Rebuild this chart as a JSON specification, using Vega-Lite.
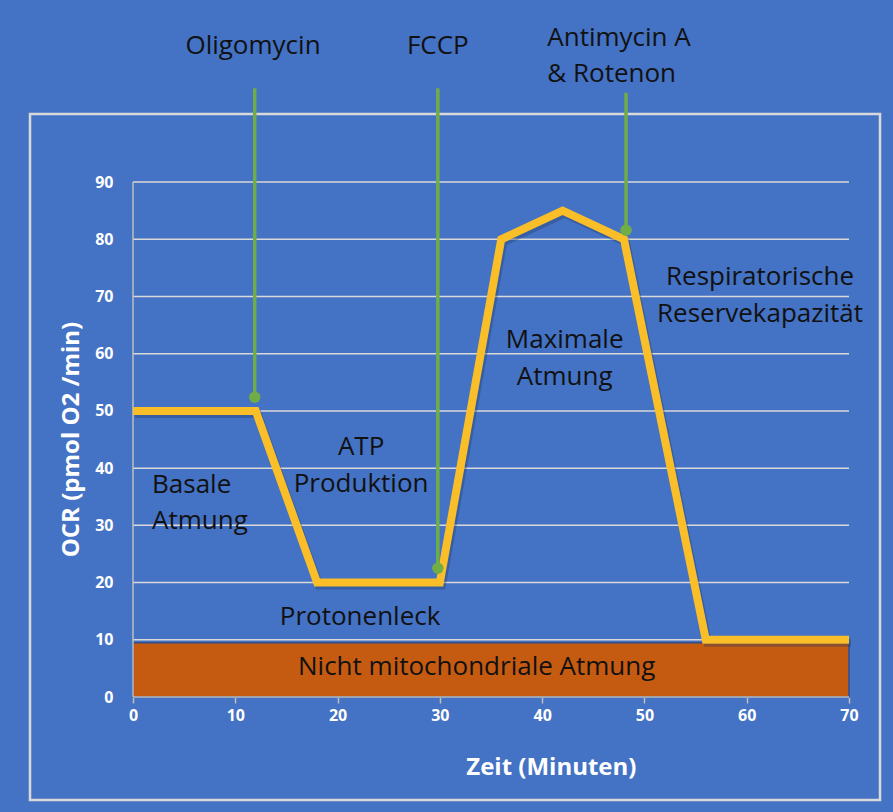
{
  "$schema": "https://vega.github.io/schema/vega-lite/v6.json",
  "width": 850,
  "height": 686,
  "autosize": {"type": "none"},
  "padding": {"left": 30, "top": 114, "right": 13, "bottom": 12},
  "background": "#4472C4",
  "config": {
    "view": {"stroke": "#D9D9D9", "strokeWidth": 2.5},
    "font": "Open Sans"
  },
  "datasets": {
    "ocr": [
      {"t": 0, "ocr": 50}, {"t": 12, "ocr": 50}, {"t": 18, "ocr": 20}, {"t": 30, "ocr": 20},
      {"t": 36, "ocr": 80}, {"t": 42, "ocr": 85}, {"t": 48, "ocr": 80}, {"t": 56, "ocr": 10}, {"t": 70, "ocr": 10}
    ],
    "grid": [{"v": 10}, {"v": 20}, {"v": 30}, {"v": 40}, {"v": 50}, {"v": 60}, {"v": 70}, {"v": 80}, {"v": 90}],
    "injections": [
      {"name": "Oligomycin", "t": 11.9, "top": 106.4, "end": 52.4},
      {"name": "FCCP", "t": 29.8, "top": 106.4, "end": 22.5},
      {"name": "Antimycin A & Rotenon", "t": 48.2, "top": 105.6, "end": 81.6}
    ],
    "centerLabels": [
      {"t": 11.73, "v": 113.8, "txt": "Oligomycin"},
      {"t": 29.8, "v": 113.8, "txt": "FCCP"},
      {"t": 22.3, "v": 43.7, "txt": "ATP\nProduktion"},
      {"t": 22.2, "v": 14.0, "txt": "Protonenleck"},
      {"t": 42.2, "v": 62.4, "txt": "Maximale\nAtmung"},
      {"t": 61.3, "v": 73.4, "txt": "Respiratorische\nReservekapazität"},
      {"t": 33.6, "v": 5.2, "txt": "Nicht mitochondriale Atmung"}
    ],
    "leftLabels": [
      {"t": 40.5, "v": 115.2, "txt": "Antimycin A\n& Rotenon"},
      {"t": 1.86, "v": 37.0, "txt": "Basale\nAtmung"}
    ],
    "band": [{"t0": 0, "t1": 70, "lo": 0, "hi": 9.5}]
  },
  "layer": [
    {
      "data": {"name": "band"},
      "mark": {"type": "rect", "color": "#C55A11", "stroke": "#2F4F8F", "strokeWidth": 1.5},
      "encoding": {
        "x": {"field": "t0", "type": "quantitative", "scale": {"domain": [-10.07, 73.03], "nice": false, "zero": false},
          "axis": {"values": [0, 10, 20, 30, 40, 50, 60, 70], "offset": -103, "domain": false, "grid": false,
            "ticks": true, "tickColor": "#BFBFBF", "tickSize": 6, "tickWidth": 1.5, "labelColor": "white",
            "labelFont": "Open Sans", "labelFontWeight": "bold", "labelFontSize": 16, "labelPadding": 4, "title": null}},
        "x2": {"field": "t1"},
        "y": {"field": "lo", "type": "quantitative", "scale": {"domain": [-18.0, 101.9], "nice": false, "zero": false},
          "axis": {"values": [0, 10, 20, 30, 40, 50, 60, 70, 80, 90], "offset": -103, "domain": false, "grid": false,
            "ticks": false, "labelColor": "white", "labelFont": "Open Sans", "labelFontWeight": "bold",
            "labelFontSize": 16, "labelPadding": 20, "title": null}},
        "y2": {"field": "hi"}
      }
    },
    {
      "data": {"name": "grid"},
      "mark": {"type": "rule", "color": "#D9D9D9", "strokeWidth": 1.5},
      "encoding": {
        "x": {"datum": 0, "type": "quantitative"},
        "x2": {"datum": 70},
        "y": {"field": "v", "type": "quantitative"}
      }
    },
    {
      "data": {"values": [{"a": 0}]},
      "mark": {"type": "rule", "color": "#BFBFBF", "strokeWidth": 1.5},
      "encoding": {
        "x": {"datum": 0, "type": "quantitative"},
        "x2": {"datum": 70},
        "y": {"datum": 0, "type": "quantitative"}
      }
    },
    {
      "data": {"values": [{"a": 0}]},
      "mark": {"type": "rule", "color": "#BFBFBF", "strokeWidth": 1.5},
      "encoding": {
        "x": {"datum": 0, "type": "quantitative"},
        "y": {"datum": 0, "type": "quantitative"},
        "y2": {"datum": 90}
      }
    },
    {
      "data": {"name": "ocr"},
      "mark": {"type": "line", "color": "#1F3864", "opacity": 0.35, "strokeWidth": 8, "xOffset": 2, "yOffset": 3, "strokeJoin": "miter"},
      "encoding": {
        "x": {"field": "t", "type": "quantitative"},
        "y": {"field": "ocr", "type": "quantitative"}
      }
    },
    {
      "data": {"name": "ocr"},
      "mark": {"type": "line", "color": "#F9BE28", "strokeWidth": 8, "strokeJoin": "miter"},
      "encoding": {
        "x": {"field": "t", "type": "quantitative"},
        "y": {"field": "ocr", "type": "quantitative"}
      }
    },
    {
      "data": {"name": "injections"},
      "mark": {"type": "rule", "color": "#70AD47", "strokeWidth": 3.5},
      "encoding": {
        "x": {"field": "t", "type": "quantitative"},
        "y": {"field": "top", "type": "quantitative"},
        "y2": {"field": "end"}
      }
    },
    {
      "data": {"name": "injections"},
      "mark": {"type": "circle", "color": "#70AD47", "opacity": 1, "size": 130},
      "encoding": {
        "x": {"field": "t", "type": "quantitative"},
        "y": {"field": "end", "type": "quantitative"}
      }
    },
    {
      "data": {"name": "centerLabels"},
      "mark": {"type": "text", "align": "center", "baseline": "middle", "fontSize": 26, "lineHeight": 37, "lineBreak": "\n", "color": "#111111", "font": "Open Sans"},
      "encoding": {
        "x": {"field": "t", "type": "quantitative"},
        "y": {"field": "v", "type": "quantitative"},
        "text": {"field": "txt"}
      }
    },
    {
      "data": {"name": "leftLabels"},
      "mark": {"type": "text", "align": "left", "baseline": "middle", "fontSize": 26, "lineHeight": 36, "lineBreak": "\n", "color": "#111111", "font": "Open Sans"},
      "encoding": {
        "x": {"field": "t", "type": "quantitative"},
        "y": {"field": "v", "type": "quantitative"},
        "text": {"field": "txt"}
      }
    },
    {
      "data": {"values": [{"t": 40.9, "v": -12.4, "txt": "Zeit (Minuten)", "ang": 0}, {"t": -5.96, "v": 45, "txt": "OCR (pmol O2 /min)", "ang": 270}]},
      "mark": {"type": "text", "align": "center", "baseline": "middle", "fontSize": 24, "fontWeight": "bold", "color": "white", "font": "Open Sans"},
      "encoding": {
        "x": {"field": "t", "type": "quantitative"},
        "y": {"field": "v", "type": "quantitative"},
        "text": {"field": "txt"},
        "angle": {"field": "ang", "type": "quantitative", "scale": null}
      }
    }
  ]
}
